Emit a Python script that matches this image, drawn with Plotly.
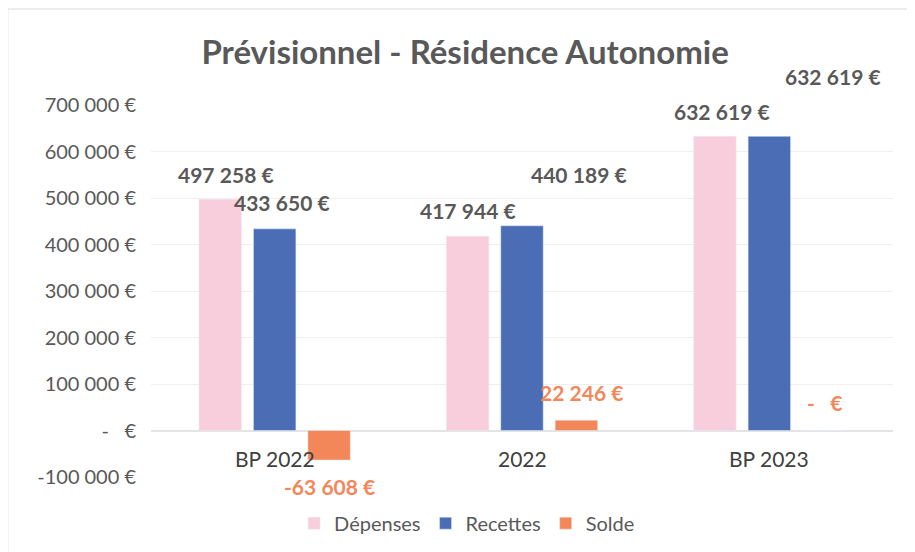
"""
Prévisionnel - Résidence Autonomie : grouped bars
"""
import plotly.graph_objects as go

categories = ['BP 2022', '2022', 'BP 2023']
depenses = [497258, 417944, 632619]
recettes = [433650, 440189, 632619]
solde = [-63608, 22246, 0]

y_ticks = [-100000, 0, 100000, 200000, 300000, 400000, 500000, 600000, 700000]

PINK = '#F9CEDC'
BLUE = '#4A6DB6'
ORANGE = '#F4875A'
GREY = '#595959'
FONT = 'Lato'


def euro(v):
    if v == 0:
        return '-\u00a0\u00a0\u00a0€'
    s = f'{abs(v):,.0f}'.replace(',', '\u202f')
    return ('-' if v < 0 else '') + s + '\u00a0€'


fig = go.Figure()
fig.add_trace(go.Bar(x=categories, y=depenses, name='Dépenses', marker_color=PINK))
fig.add_trace(go.Bar(x=categories, y=recettes, name='Recettes', marker_color=BLUE))
fig.add_trace(go.Bar(x=categories, y=solde, name='Solde', marker_color=ORANGE))

# data labels, placed by hand as in the Excel original
# (pixel offsets from the bar centre, per series then per category)
bar_offset = [-55, 0, 55]
label_shift = [
    [(6, 25), (1, 26), (8, 25)],
    [(7, 26), (57, 51), (64, 60)],
    [(0, -26), (4, 28), (0, 28)],
]
series = [depenses, recettes, solde]
for s_idx, vals in enumerate(series):
    color = ORANGE if s_idx == 2 else GREY
    for c_idx, v in enumerate(vals):
        dx, dy = label_shift[s_idx][c_idx]
        # category axis: use the category index so '2022' is not read as a number
        fig.add_annotation(
            x=c_idx, y=v, text=f'<b>{euro(v)}</b>',
            showarrow=False, xshift=bar_offset[s_idx] + dx, yshift=dy,
            yanchor='middle', xanchor='center',
            font=dict(family=FONT, size=21, color=color)
        )

# category labels sit just under the zero line, like Excel
for c_idx, c in enumerate(categories):
    fig.add_annotation(
        x=c_idx, y=0, text=c, showarrow=False, yshift=-28, yanchor='middle',
        font=dict(family=FONT, size=21, color='#404040')
    )

# the page has an 8px body margin, so the figure is a bit smaller than the window
fig.update_layout(
    width=907, height=544,
    paper_bgcolor='white', plot_bgcolor='white',
    font=dict(family=FONT, color=GREY, size=20),
    title=dict(text='<b>Prévisionnel - Résidence Autonomie</b>', x=0.504, xanchor='center',
               y=0.919, yanchor='middle', font=dict(size=33, color=GREY, family=FONT)),
    barmode='group', bargap=0.34, bargroupgap=0.22,
    margin=dict(l=143, r=22, t=97, b=75),
    showlegend=True,
    # container-referenced so the legend does not push the bottom margin
    legend=dict(orientation='h', x=0.426, xanchor='center', yref='container', y=0.053,
                yanchor='middle', font=dict(size=20, color=GREY, family=FONT), itemwidth=30,
                traceorder='normal'),
    xaxis=dict(type='category', categoryorder='array', categoryarray=categories,
               range=[-0.5, 2.5], showticklabels=False, showgrid=False,
               zeroline=False, showline=False),
    yaxis=dict(
        range=[-100000, 700000], tickvals=y_ticks, ticktext=[euro(v) for v in y_ticks],
        showgrid=True, gridcolor='#EFEFEF', zeroline=True, zerolinecolor='#E4E4E4',
        tickfont=dict(size=20, color=GREY, family=FONT), ticklabelstandoff=14
    ),
    shapes=[dict(type='rect', xref='paper', yref='paper', x0=-0.193, x1=1.0256, y0=-0.21, y1=1.258,
                 line=dict(color='#D9D9D9', width=1))]
)

fig.write_html('out.html')
